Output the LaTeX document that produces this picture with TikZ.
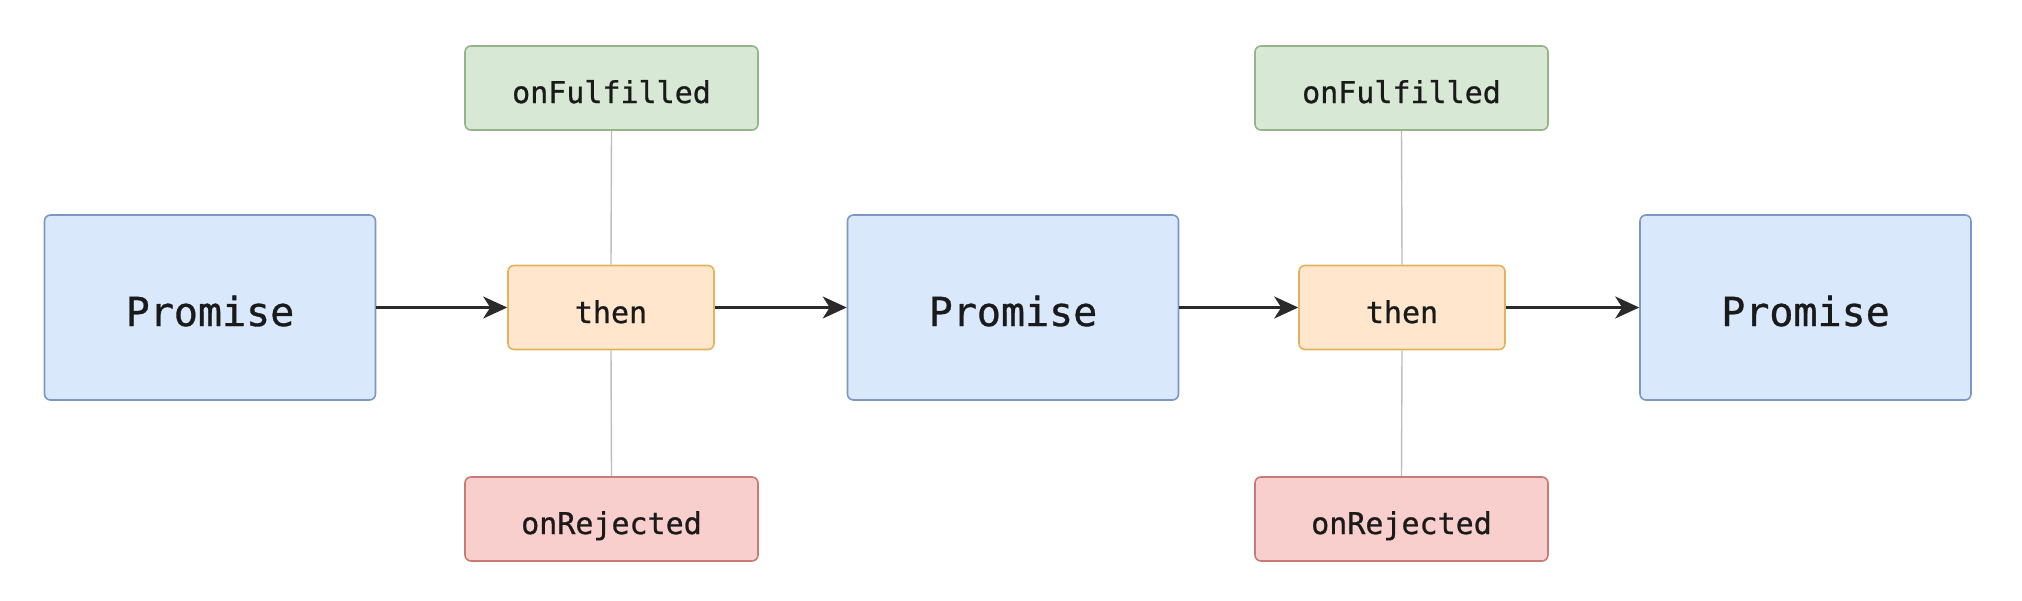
\documentclass[tikz,border=0pt]{standalone}
\usepackage{fontspec}
\newfontfamily\diagfont[FakeBold=0.8]{DejaVu Sans Mono}
\usetikzlibrary{arrows.meta}
\definecolor{blueF}{HTML}{DAE8FC}
\definecolor{blueD}{HTML}{7D97C4}
\definecolor{orangeF}{HTML}{FFE6CC}
\definecolor{orangeD}{HTML}{E2B35A}
\definecolor{greenF}{HTML}{D7E8D5}
\definecolor{greenD}{HTML}{95B389}
\definecolor{redF}{HTML}{F8CFCC}
\definecolor{redD}{HTML}{C77A76}
\definecolor{textC}{HTML}{1A1A1A}
\definecolor{arrowC}{HTML}{2A2A2A}
\definecolor{stemC}{HTML}{BDBDBD}
\tikzset{
  box/.style={draw, rounded corners=6pt, line width=1.6pt, inner sep=0pt, text=textC, text depth=0pt},
  promisebox/.style={box, fill=blueF, draw=blueD, minimum width=331pt, minimum height=185pt, text height=37pt, font=\diagfont\fontsize{40}{48}\selectfont},
  thenbox/.style={box, fill=orangeF, draw=orangeD, minimum width=206pt, minimum height=84pt, text height=31pt, font=\diagfont\fontsize{30}{36}\selectfont},
  okbox/.style={box, fill=greenF, draw=greenD, minimum width=293pt, minimum height=84pt, text height=30pt, font=\diagfont\fontsize{30}{36}\selectfont},
  errbox/.style={box, fill=redF, draw=redD, minimum width=293pt, minimum height=84pt, text height=30pt, font=\diagfont\fontsize{30}{36}\selectfont},
  flow/.style={draw=arrowC, line width=2.2pt, -{Stealth[length=24pt, width=22pt, inset=7pt]}},
  stem/.style={draw=stemC, line width=1.4pt}
}
\begin{document}
\begin{tikzpicture}[x=1pt, y=-1pt]
\fill[white] (0,0) rectangle (2022,600);
\useasboundingbox (0,0) rectangle (2022,600);
\node[promisebox] (p1) at (210,307.5) {Promise};
\node[thenbox] (t1) at (611,307.5) {then};
\node[okbox] (f1) at (611.5,88) {onFulfilled};
\node[errbox] (r1) at (611.5,519) {onRejected};
\node[promisebox] (p2) at (1013,307.5) {Promise};
\node[thenbox] (t2) at (1402,307.5) {then};
\node[okbox] (f2) at (1401.5,88) {onFulfilled};
\node[errbox] (r2) at (1401.5,519) {onRejected};
\node[promisebox] (p3) at (1805.5,307.5) {Promise};
\draw[stem] (f1.south) -- (t1.north);
\draw[stem] (t1.south) -- (r1.north);
\draw[stem] (f2.south) -- (t2.north);
\draw[stem] (t2.south) -- (r2.north);
\draw[flow] (p1.east) -- (t1.west);
\draw[flow] (t1.east) -- (p2.west);
\draw[flow] (p2.east) -- (t2.west);
\draw[flow] (t2.east) -- (p3.west);
\end{tikzpicture}
\end{document}
